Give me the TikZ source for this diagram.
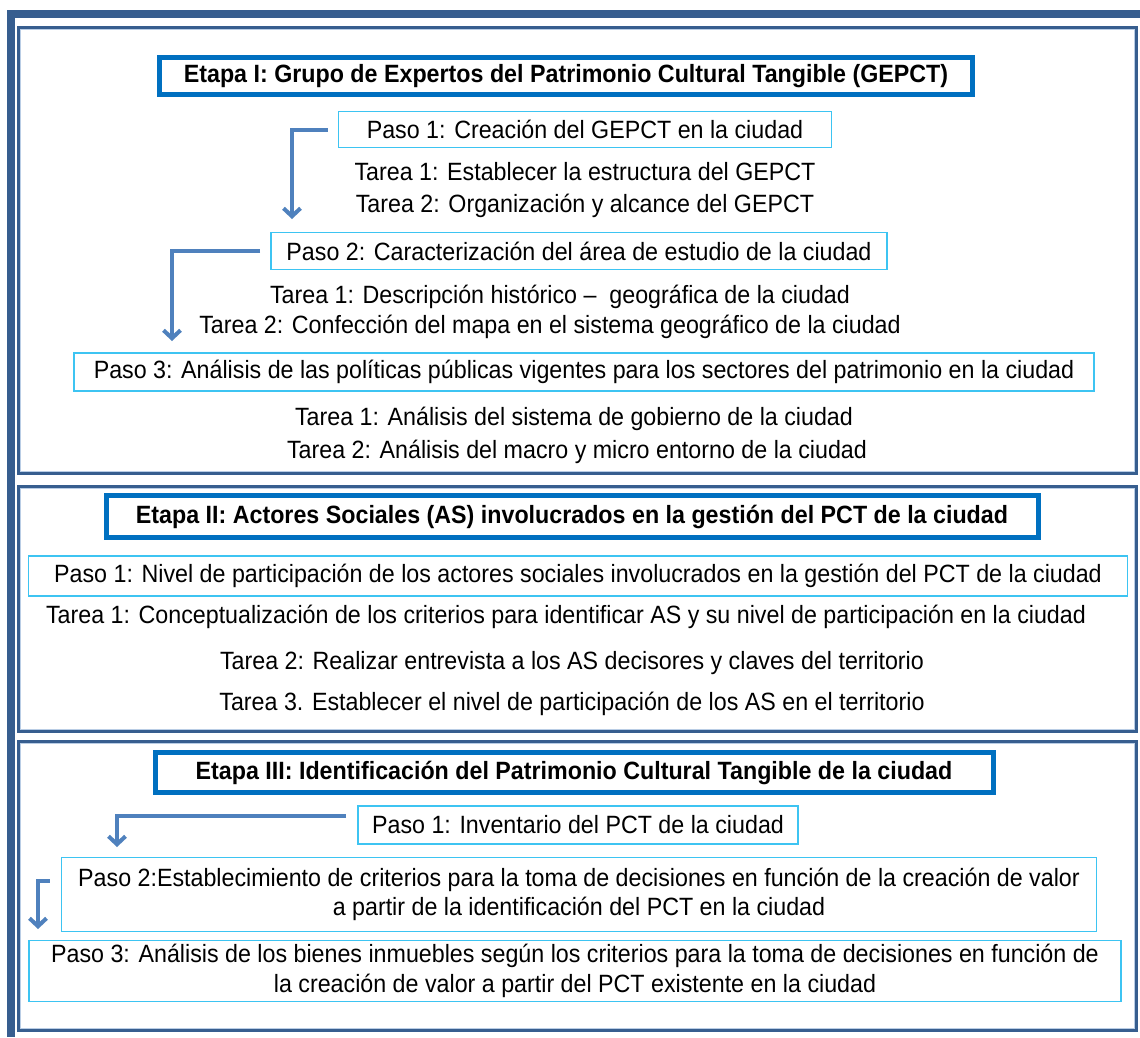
\documentclass[tikz,border=0pt]{standalone}
\usepackage{fontspec}
\setmainfont{Liberation Sans}
\newfontfamily\narrowsans[FakeStretch=0.93,Ligatures=TeX]{Liberation Sans}
\usetikzlibrary{arrows.meta}
\definecolor{frameblue}{HTML}{375E8F}
\definecolor{etapablue}{HTML}{0070C0}
\definecolor{pasoblue}{HTML}{3DC4F2}
\definecolor{arrowblue}{HTML}{4F81BD}
\definecolor{panelshade}{HTML}{B9CDE5}
\begin{document}
\begin{tikzpicture}[x=1pt,y=-1pt,
  panel/.style={draw=frameblue, line width=3pt},
  panelin/.style={draw=panelshade, line width=1pt},
  etapa/.style={draw=etapablue, line width=5pt, fill=white, inner sep=0pt,
    font=\narrowsans\bfseries\fontsize{25}{30}\selectfont},
  paso/.style={draw=pasoblue, line width=1.6pt, inner sep=0pt, align=center,
    font=\narrowsans\fontsize{25}{29.5}\selectfont},
  tarea/.style={inner sep=0pt, font=\narrowsans\fontsize{25}{29.5}\selectfont},
  flow/.style={draw=arrowblue, line width=4pt, -{Straight Barb[length=8pt,width=17pt]}}
]
\useasboundingbox (0,0) rectangle (1140,1037);
\fill[white] (0,0) rectangle (1140,1037);
% outer frame (cut by the page)
\draw[frameblue, line width=7.5pt] (1140,13.75) -- (11,13.75) -- (11,1037);
% panels
\draw[panel] (18.5,27.5) rectangle (1136,473.5);
\draw[panelin] (20.5,29.5) rectangle (1134,471.5);
\draw[panel] (18.5,486) rectangle (1136,731);
\draw[panelin] (20.5,488) rectangle (1134,729);
\draw[panel] (18.5,741) rectangle (1136,1030);
\draw[panelin] (20.5,743) rectangle (1134,1028);

% ---------- Etapa I ----------
\node[etapa, minimum width=813pt, minimum height=37pt] (e1) at (566,76)
  {Etapa I: Grupo de Expertos del Patrimonio Cultural Tangible (GEPCT)};
\node[paso, minimum width=493pt, minimum height=36pt] (e1p1) at (585,129.5)
  {Paso 1: Creación del GEPCT en la ciudad};
\node[tarea] (e1p1t1) at (585,172) {Tarea 1: Establecer la estructura del GEPCT};
\node[tarea] (e1p1t2) at (585,206) {Tarea 2: Organización y alcance del GEPCT};
\node[paso, minimum width=616pt, minimum height=37pt] (e1p2) at (579,251)
  {Paso 2: Caracterización del área de estudio de la ciudad};
\node[tarea] (e1p2t1) at (560,297) {Tarea 1: Descripción histórico –\ \ geográfica de la ciudad};
\node[tarea] (e1p2t2) at (550,327) {Tarea 2: Confección del mapa en el sistema geográfico de la ciudad};
\node[paso, minimum width=1020pt, minimum height=38pt] (e1p3) at (584,372)
  {Paso 3: Análisis de las políticas públicas vigentes para los sectores del patrimonio en la ciudad};
\node[tarea] (e1p3t1) at (574,419) {Tarea 1: Análisis del sistema de gobierno de la ciudad};
\node[tarea] (e1p3t2) at (577,452) {Tarea 2: Análisis del macro y micro entorno de la ciudad};

\coordinate (a1s) at ([xshift=-10pt]e1p1.west);
\coordinate (a1e) at (292,219);
\draw[flow] (a1s) -| (a1e);
\coordinate (a2s) at ([xshift=-10pt]e1p2.west);
\coordinate (a2e) at (172,341);
\draw[flow] (a2s) -| (a2e);

% ---------- Etapa II ----------
\node[etapa, minimum width=932pt, minimum height=42pt] (e2) at (572,516.5)
  {Etapa II: Actores Sociales (AS) involucrados en la gestión del PCT de la ciudad};
\node[paso, minimum width=1099pt, minimum height=40pt] (e2p1) at (578,576)
  {Paso 1: Nivel de participación de los actores sociales involucrados en la gestión del PCT de la ciudad};
\node[tarea] (e2t1) at (566,617) {Tarea 1: Conceptualización de los criterios para identificar AS y su nivel de participación en la ciudad};
\node[tarea] (e2t2) at (572,663) {Tarea 2: Realizar entrevista a los AS decisores y claves del territorio};
\node[tarea] (e2t3) at (572,704) {Tarea 3. Establecer el nivel de participación de los AS en el territorio};

% ---------- Etapa III ----------
\node[etapa, minimum width=838pt, minimum height=40pt] (e3) at (574,772.5)
  {Etapa III: Identificación del Patrimonio Cultural Tangible de la ciudad};
\node[paso, minimum width=440pt, minimum height=38pt] (e3p1) at (578,825)
  {Paso 1: Inventario del PCT de la ciudad};
\node[paso, minimum width=1035pt, minimum height=74pt] (e3p2) at (579,894.5)
  {Paso 2:Establecimiento de criterios para la toma de decisiones en función de la creación de valor\\
   a partir de la identificación del PCT en la ciudad};
\node[paso, minimum width=1092pt, minimum height=61pt] (e3p3) at (575,971)
  {Paso 3: Análisis de los bienes inmuebles según los criterios para la toma de decisiones en función de\\
   la creación de valor a partir del PCT existente en la ciudad};

\coordinate (a3s) at ([xshift=-11pt,yshift=9pt]e3p1.west);
\coordinate (a3e) at (117,847);
\draw[flow] (a3s) -| (a3e);
\coordinate (a4s) at ([xshift=-11pt,yshift=14pt]e3p2.west);
\coordinate (a4e) at (38,929);
\draw[flow] (a4s) -| (a4e);
\end{tikzpicture}
\end{document}
